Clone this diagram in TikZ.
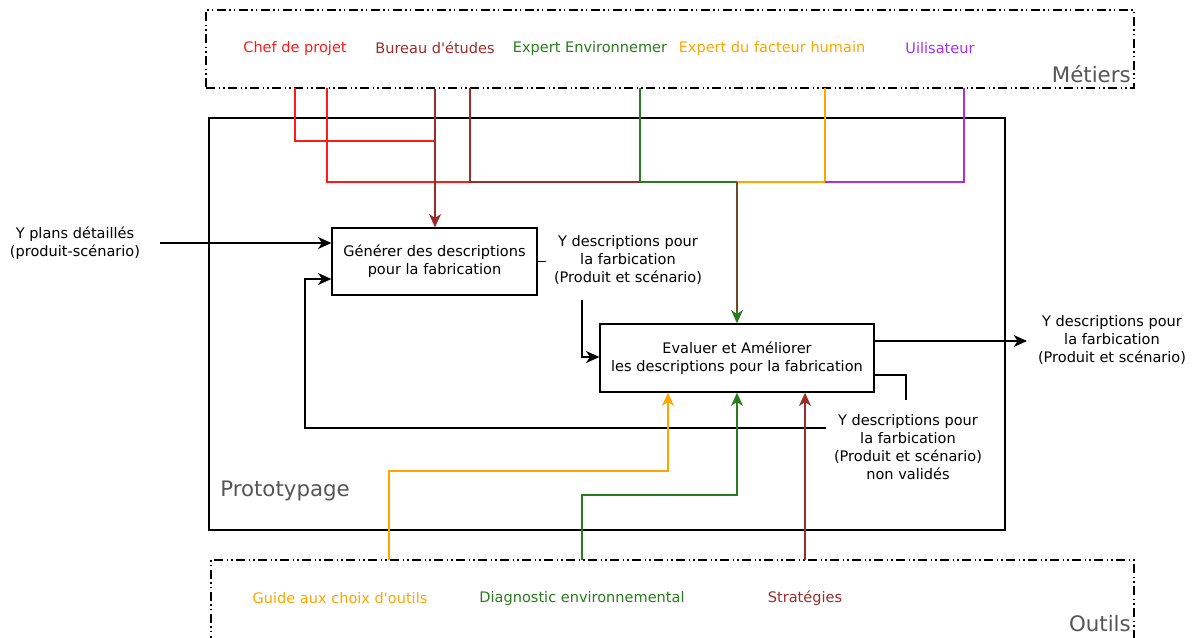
\documentclass[tikz,border=0pt]{standalone}
\usepackage{fontspec}
\setmainfont{DejaVu Sans}
\usetikzlibrary{arrows.meta}
\definecolor{cred}{HTML}{FF1A1A}
\definecolor{cbrown}{HTML}{9C2B2B}
\definecolor{cgreen}{HTML}{2A7A1F}
\definecolor{corange}{HTML}{FFA500}
\definecolor{cpurple}{HTML}{A52EF0}
\definecolor{cgray}{HTML}{555555}
\definecolor{cmix}{HTML}{6B4A1F}
\begin{document}
\begin{tikzpicture}[x=0.75pt,y=-0.75pt,
  font=\fontsize{10.9}{13.5}\selectfont,
  lbl/.style={align=center,inner sep=0pt},
  procbox/.style={draw,line width=1pt,align=center,inner sep=0pt},
  framebox/.style={draw,line width=1pt,inner sep=0pt,dash pattern=on 7pt off 2.5pt on 1pt off 2.5pt on 1pt off 2.5pt},
  cn/.style={line width=1.1pt},
  arr/.style={cn,-{Stealth[length=10pt,width=9pt,inset=3pt]}},
  biglbl/.style={inner sep=0pt,text=cgray,font=\fontsize{16}{19}\selectfont}]
\useasboundingbox (0,0) rectangle (1195,637);

% frames
\node[framebox,minimum width=696pt,minimum height=58.5pt] (metiers) at (670,49) {};
\node[draw,line width=1pt,minimum width=597pt,minimum height=309pt,inner sep=0pt] (proto) at (607,324) {};
\coordinate (oa) at (211,645);
\coordinate (ob) at (211,560);
\coordinate (oc) at (1134,560);
\coordinate (od) at (1134,645);
\draw[line width=1pt,dash pattern=on 7pt off 2.5pt on 1pt off 2.5pt on 1pt off 2.5pt] (oa) -- (ob) -- (oc) -- (od);

\node[biglbl,anchor=east] (metlbl) at (1131,74) {Métiers};
\node[biglbl,anchor=east] (outlbl) at (1131,624) {Outils};
\node[biglbl,anchor=west] (protolbl) at (220,491) {Prototypage};

% metiers labels
\node[lbl,text=cred] (chef) at (295,48) {Chef de projet};
\node[lbl,text=cbrown] (bureau) at (435,48) {Bureau d\textquotesingle études};
\node[lbl,text=cgreen] (envt) at (590,48) {Expert Environnemer};
\node[lbl,text=corange] (fact) at (772,48) {Expert du facteur humain};
\node[lbl,text=cpurple] (util) at (940,48) {Uilisateur};

% outils labels
\node[lbl,text=corange] (guide) at (340,598) {Guide aux choix d\textquotesingle outils};
\node[lbl,text=cgreen] (diag) at (582,598) {Diagnostic environnemental};
\node[lbl,text=cbrown] (strat) at (805,598) {Stratégies};

% process boxes
\node[procbox,minimum width=153.75pt,minimum height=50.25pt] (gen) at (434.5,261.5) {Générer des descriptions\\pour la fabrication};
\node[procbox,minimum width=205.5pt,minimum height=51pt] (eval) at (737,358) {Evaluer et Améliorer\\les descriptions pour la fabrication};

% text labels
\node[lbl] (inp) at (75,243) {Y plans détaillés\\(produit-scénario)};
\node[lbl] (mid) at (628,260) {Y descriptions pour\\la farbication\\(Produit et scénario)};
\node[lbl] (out) at (1112,340) {Y descriptions pour\\la farbication\\(Produit et scénario)};
\node[lbl] (nv) at (908,447) {Y descriptions pour\\la farbication\\(Produit et scénario)\\non validés};

% helper coordinates
\coordinate (r1top) at (295,88);
\coordinate (r1bend) at (435,141);
\coordinate (r2top) at (327,88);
\coordinate (b2top) at (470,88);
\coordinate (gtop) at (640,88);
\coordinate (otop) at (825,88);
\coordinate (ptop) at (964,88);
\coordinate (bus) at (737,182);
\coordinate (inpstart) at (160,243);
\coordinate (midstart) at (582,300);
\coordinate (outend) at (1027,341);
\coordinate (nvend) at (906,400);
\coordinate (fbstart) at (826,428);
\coordinate (fbcorner) at (305,279);
\coordinate (ostart) at (389,560);
\coordinate (obend) at (668,471);
\coordinate (gstart) at (582,560);
\coordinate (gbend) at (737,495);
\coordinate (bstart) at (805,560);

% metiers connectors
\draw[cn,cred] (r1top) |- (r1bend);
\draw[cn,cred] (r2top) |- (b2top |- bus);
\draw[cn,cbrown] (b2top) |- (gtop |- bus);
\draw[cn,cgreen] (gtop) |- (bus);
\draw[cn,corange] (otop) |- (bus);
\draw[cn,cpurple] (ptop) |- (otop |- bus);
\draw[arr,cbrown] (bureau |- metiers.south) -- (bureau |- gen.north);
\draw[arr,cgreen] (bus) -- (eval.north);
\draw[cn,cmix] (bus) -- ([yshift=9pt]eval.north);

% flows
\draw[arr] (inpstart) -- (gen.west |- inpstart);
\draw[cn] (gen.east) -- ++(8,0);
\draw[arr] (midstart) |- (eval.west |- 0,357);
\draw[arr] (eval.east |- outend) -- (outend);
\draw[cn] (eval.east |- 0,375) -| (nvend);
\draw[arr] (fbstart) -| (fbcorner) -- (gen.west |- fbcorner);

% outils connectors
\draw[arr,corange] (ostart) |- (obend) -- (obend |- eval.south);
\draw[arr,cgreen] (gstart) |- (gbend) -- (gbend |- eval.south);
\draw[arr,cbrown] (bstart) -- (bstart |- eval.south);
\end{tikzpicture}
\end{document}
